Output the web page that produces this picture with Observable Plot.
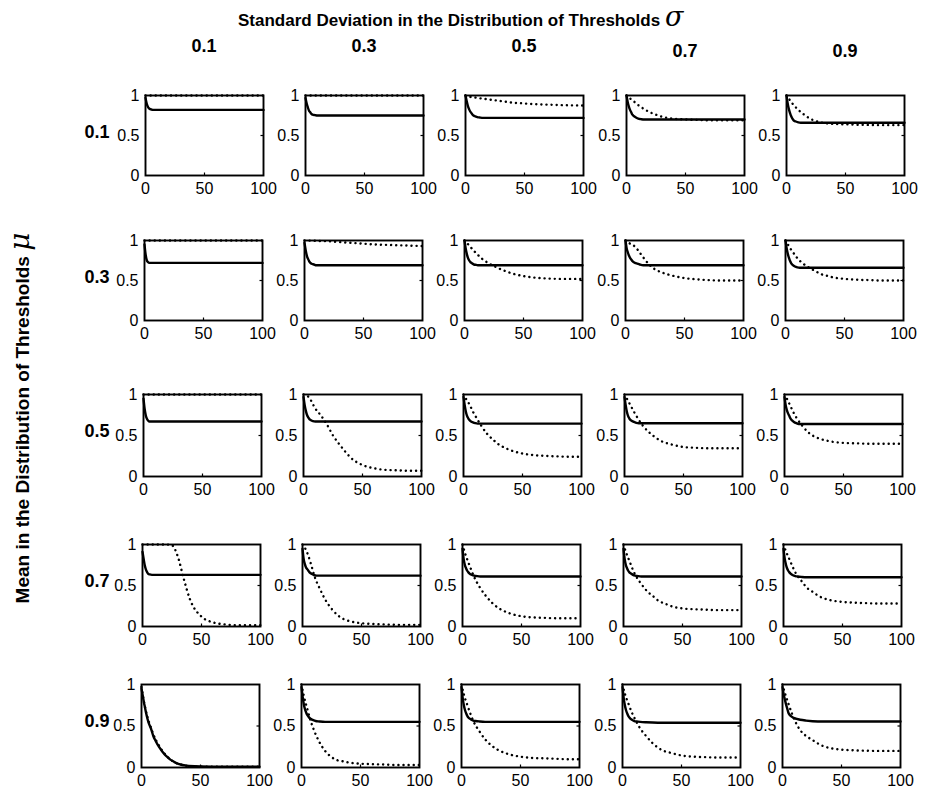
<!DOCTYPE html>
<html>
<head>
<meta charset="utf-8">
<script src="https://cdn.jsdelivr.net/npm/d3@7"></script>
<script src="https://cdn.jsdelivr.net/npm/@observablehq/plot@0.6"></script>
<style>
  html, body { margin: 0; padding: 0; background: #fff; }
  #root { position: relative; width: 929px; height: 792px; background: #fff; overflow: hidden;
          font-family: "Liberation Sans", Arial, Helvetica, sans-serif; color: #000; }
  .lbl { position: absolute; font-weight: bold; white-space: nowrap; line-height: 1; }
  .panel { position: absolute; }
  .panel svg { max-width: none !important; }
  .panel svg text { font-size: 16px !important; font-family: "Liberation Sans", Arial, sans-serif !important; fill: #000; }
  .greek { font-family: "DejaVu Serif", serif; font-style: italic; font-weight: normal; }
</style>
</head>
<body>
<div id="root"></div>
<script>
// ---------------- data ----------------
const sigmaLabels = ["0.1", "0.3", "0.5", "0.7", "0.9"];   // columns
const muLabels    = ["0.1", "0.3", "0.5", "0.7", "0.9"];   // rows
const xTicks = [0, 50, 100];
const yTicks = [0, 0.5, 1];

// sample positions (time steps) for the two curves
const X_SOLID = [0, 1, 2, 3, 4, 5, 6, 8, 10, 12, 15, 20, 30, 40, 60, 100];
const X_DOT   = [0, 2, 5, 8, 10, 15, 20, 25, 30, 35, 40, 50, 60, 70, 80, 90, 100];

// solid curves, one array per sigma column
const solidMu01 = [
  [0.97,0.90,0.86,0.84,0.83,0.825,0.82,0.82,0.82,0.82,0.82,0.82,0.82,0.82,0.82,0.82],
  [0.97,0.90,0.85,0.81,0.79,0.77,0.76,0.755,0.75,0.75,0.75,0.75,0.75,0.75,0.75,0.75],
  [1.00,0.93,0.87,0.83,0.80,0.78,0.76,0.74,0.73,0.725,0.72,0.72,0.72,0.72,0.72,0.72],
  [1.00,0.92,0.86,0.82,0.79,0.76,0.745,0.725,0.71,0.705,0.70,0.70,0.70,0.70,0.70,0.70],
  [1.00,0.90,0.83,0.78,0.74,0.71,0.69,0.675,0.665,0.66,0.66,0.66,0.66,0.66,0.66,0.66]
];
const solidMu03 = [
  [0.95,0.82,0.75,0.73,0.72,0.72,0.72,0.72,0.72,0.72,0.72,0.72,0.72,0.72,0.72,0.72],
  [0.97,0.88,0.81,0.77,0.74,0.72,0.71,0.70,0.69,0.69,0.69,0.69,0.69,0.69,0.69,0.69],
  [1.00,0.90,0.83,0.78,0.75,0.73,0.72,0.70,0.695,0.69,0.69,0.69,0.69,0.69,0.69,0.69],
  [1.00,0.90,0.85,0.81,0.78,0.76,0.74,0.72,0.71,0.70,0.69,0.69,0.69,0.69,0.69,0.69],
  [1.00,0.90,0.83,0.78,0.74,0.71,0.695,0.675,0.665,0.66,0.66,0.66,0.66,0.66,0.66,0.66]
];
const solidMu05 = [
  [0.95,0.82,0.74,0.70,0.68,0.67,0.67,0.67,0.67,0.67,0.67,0.67,0.67,0.67,0.67,0.67],
  [0.97,0.87,0.80,0.75,0.72,0.70,0.69,0.675,0.67,0.67,0.67,0.67,0.67,0.67,0.67,0.67],
  [0.97,0.87,0.79,0.74,0.71,0.69,0.675,0.66,0.65,0.645,0.645,0.645,0.645,0.645,0.645,0.645],
  [0.97,0.87,0.79,0.74,0.71,0.69,0.68,0.665,0.655,0.65,0.65,0.65,0.65,0.65,0.65,0.65],
  [0.97,0.87,0.81,0.77,0.74,0.71,0.69,0.665,0.65,0.64,0.64,0.64,0.64,0.64,0.64,0.64]
];
const solidMu07 = [
  [0.91,0.82,0.74,0.69,0.66,0.64,0.635,0.63,0.63,0.63,0.63,0.63,0.63,0.63,0.63,0.63],
  [0.95,0.82,0.76,0.72,0.70,0.68,0.66,0.64,0.625,0.62,0.62,0.62,0.62,0.62,0.62,0.62],
  [0.95,0.82,0.75,0.71,0.68,0.66,0.645,0.63,0.62,0.615,0.61,0.61,0.61,0.61,0.61,0.61],
  [0.95,0.82,0.75,0.71,0.68,0.66,0.65,0.63,0.62,0.615,0.61,0.61,0.61,0.61,0.61,0.61],
  [0.95,0.83,0.76,0.71,0.68,0.66,0.645,0.625,0.615,0.61,0.605,0.60,0.60,0.60,0.60,0.60]
];
const solidMu09 = [
  [0.95,0.87,0.79,0.72,0.65,0.59,0.54,0.47,0.38,0.32,0.245,0.15,0.05,0.02,0.01,0.01],
  [0.97,0.85,0.76,0.70,0.66,0.63,0.61,0.585,0.57,0.56,0.555,0.55,0.55,0.55,0.55,0.55],
  [0.97,0.84,0.75,0.69,0.65,0.62,0.60,0.58,0.565,0.56,0.555,0.55,0.55,0.55,0.55,0.55],
  [0.97,0.84,0.75,0.69,0.65,0.62,0.60,0.575,0.56,0.555,0.55,0.545,0.54,0.54,0.54,0.54],
  [0.97,0.88,0.82,0.76,0.71,0.66,0.635,0.61,0.595,0.585,0.575,0.565,0.555,0.555,0.555,0.555]
];

// dotted curves, one array per sigma column
const dottedMu01 = [
  [1,1,1,1,1,1,1,1,1,1,1,1,1,1,1,1,1],
  [1,1,1,1,1,1,1,1,1,1,1,1,1,1,1,1,1],
  [1,0.99,0.98,0.975,0.97,0.96,0.95,0.94,0.93,0.92,0.91,0.90,0.89,0.885,0.88,0.877,0.875],
  [1,0.975,0.94,0.905,0.88,0.83,0.79,0.76,0.735,0.72,0.71,0.70,0.695,0.69,0.69,0.69,0.69],
  [1,0.96,0.90,0.85,0.82,0.76,0.71,0.68,0.66,0.65,0.645,0.64,0.635,0.632,0.63,0.63,0.63]
];
const dottedMu03 = [
  [1,1,1,1,1,1,1,1,1,1,1,1,1,1,1,1,1],
  [1,1,0.998,0.997,0.995,0.993,0.99,0.985,0.98,0.975,0.97,0.96,0.95,0.945,0.94,0.935,0.93],
  [1,0.97,0.92,0.87,0.84,0.77,0.72,0.68,0.645,0.615,0.59,0.555,0.535,0.525,0.52,0.52,0.52],
  [1,0.98,0.95,0.925,0.89,0.79,0.70,0.64,0.605,0.58,0.56,0.53,0.515,0.505,0.50,0.50,0.50],
  [1,0.95,0.88,0.82,0.78,0.71,0.66,0.62,0.58,0.56,0.54,0.52,0.51,0.505,0.50,0.50,0.50]
];
const dottedMu05 = [
  [1,1,1,1,1,1,1,1,1,1,1,1,1,1,1,1,1],
  [1,0.99,0.96,0.88,0.83,0.74,0.63,0.50,0.40,0.31,0.23,0.14,0.10,0.08,0.075,0.07,0.07],
  [1,0.95,0.88,0.79,0.74,0.62,0.52,0.45,0.39,0.35,0.32,0.28,0.26,0.25,0.245,0.24,0.24],
  [1,0.95,0.87,0.79,0.74,0.63,0.55,0.49,0.44,0.41,0.39,0.36,0.35,0.345,0.345,0.345,0.345],
  [1,0.95,0.86,0.77,0.72,0.62,0.54,0.49,0.46,0.44,0.425,0.41,0.405,0.40,0.40,0.40,0.40]
];
const dottedMu07 = [
  [1,1,1,1,1,1,1,0.99,0.85,0.58,0.34,0.12,0.05,0.025,0.015,0.015,0.015],
  [1,0.96,0.86,0.72,0.62,0.45,0.31,0.21,0.135,0.09,0.065,0.04,0.03,0.025,0.02,0.02,0.02],
  [1,0.90,0.78,0.67,0.60,0.47,0.37,0.29,0.23,0.19,0.16,0.125,0.11,0.105,0.10,0.10,0.10],
  [1,0.91,0.80,0.69,0.63,0.52,0.43,0.37,0.31,0.28,0.25,0.22,0.21,0.205,0.20,0.20,0.20],
  [1,0.92,0.82,0.72,0.66,0.56,0.47,0.42,0.37,0.34,0.32,0.30,0.29,0.285,0.28,0.28,0.28]
];
const dottedMu09 = [
  [0.97,0.80,0.61,0.48,0.40,0.26,0.16,0.09,0.05,0.03,0.015,0.01,0.01,0.01,0.01,0.01,0.01],
  [1,0.86,0.70,0.55,0.47,0.31,0.20,0.13,0.09,0.075,0.06,0.045,0.04,0.035,0.03,0.03,0.03],
  [1,0.88,0.75,0.63,0.56,0.44,0.34,0.27,0.22,0.185,0.16,0.13,0.115,0.11,0.105,0.10,0.10],
  [1,0.89,0.77,0.66,0.60,0.47,0.38,0.30,0.24,0.20,0.18,0.145,0.13,0.125,0.12,0.12,0.12],
  [1,0.90,0.77,0.65,0.58,0.45,0.38,0.335,0.29,0.255,0.235,0.215,0.207,0.203,0.20,0.20,0.20]
];

const solidRows  = [solidMu01, solidMu03, solidMu05, solidMu07, solidMu09];
const dottedRows = [dottedMu01, dottedMu03, dottedMu05, dottedMu07, dottedMu09];

// ---------------- layout ----------------
const colLeft  = [145, 305, 465, 626, 786];
const rowShift = [0, -1, -2, -3, -4];
const rowTop   = [95, 240, 394, 544, 684];
const rowH     = [80, 80, 82, 82, 83];
const panelW   = 118;
const mL = 40, mR = 18, mT = 8, mB = 26;
const FONT = "Liberation Sans, Arial, Helvetica, sans-serif";

const root = document.getElementById("root");

function addLabel(html, css) {
  const d = document.createElement("div");
  d.className = "lbl";
  d.innerHTML = html;
  Object.assign(d.style, css);
  root.appendChild(d);
  return d;
}

for (let r = 0; r < 5; r++) {
  for (let c = 0; c < 5; c++) {
    const H = rowH[r];
    const solid = X_SOLID.map((x, i) => ({x, y: solidRows[r][c][i]}));
    const dotted = X_DOT.map((x, i) => ({x, y: dottedRows[r][c][i]}));
    const chart = Plot.plot({
      width: panelW + mL + mR,
      height: H + mT + mB,
      marginLeft: mL, marginRight: mR, marginTop: mT, marginBottom: mB,
      x: {domain: [0, 100]},
      y: {domain: [0, 1]},
      style: {fontFamily: FONT, fontSize: "16px", color: "#000", background: "transparent", overflow: "visible"},
      marks: [
        Plot.line(dotted, {x: "x", y: "y", stroke: "#000", strokeWidth: 2.4,
          strokeDasharray: "0.1 5", strokeLinecap: "round", curve: "monotone-x"}),
        Plot.line(solid, {x: "x", y: "y", stroke: "#000", strokeWidth: 2.4, curve: "monotone-x"}),
        Plot.tickX([50], {x: d => d, stroke: "#000", strokeWidth: 1.2, insetTop: H - 2.5}),
        Plot.tickY([0.5], {y: d => d, stroke: "#000", strokeWidth: 1.2, insetLeft: panelW - 2.5}),
        Plot.frame({stroke: "#000", strokeWidth: 1.9}),
        Plot.axisX(xTicks, {tickSize: 0, tickPadding: 7, label: null}),
        Plot.axisY(yTicks, {tickSize: 0, tickPadding: 6, label: null, tickFormat: d => String(d)})
      ]
    });
    const wrap = document.createElement("div");
    wrap.className = "panel";
    wrap.style.left = (colLeft[c] + rowShift[r] - mL) + "px";
    wrap.style.top = (rowTop[r] - mT) + "px";
    wrap.appendChild(chart);
    root.appendChild(wrap);
  }
}

// title
addLabel('Standard Deviation in the Distribution of Thresholds&nbsp;<span class="greek" style="font-size:27px">σ</span>',
  {left: "238px", top: "3px", fontSize: "17px"});

// column headers
const headerTop = [37, 37, 37, 42, 42];
sigmaLabels.forEach((s, c) => {
  addLabel(s, {left: (colLeft[c] + panelW / 2) + "px", top: headerTop[c] + "px",
    transform: "translateX(-50%)", fontSize: "18px"});
});

// row labels
muLabels.forEach((m, r) => {
  addLabel(m, {left: "97px", top: (rowTop[r] + 37) + "px",
    transform: "translate(-50%, -50%)", fontSize: "18px"});
});

// y-axis title (rotated)
addLabel('Mean in the Distribution of Thresholds&nbsp;<span class="greek" style="font-size:28px">μ</span>',
  {left: "20px", top: "418px", transform: "translate(-50%, -50%) rotate(-90deg)", fontSize: "19px"});
</script>
</body>
</html>
